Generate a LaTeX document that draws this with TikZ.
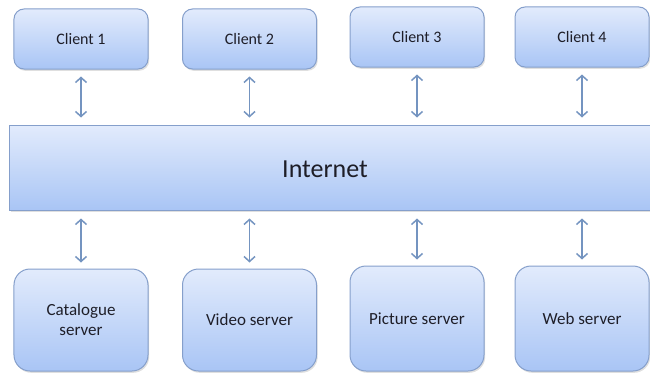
\documentclass[tikz,border=0pt]{standalone}
\usepackage{fontspec}
\setmainfont{Carlito}
\usetikzlibrary{arrows.meta,shadows}
\definecolor{boxtop}{HTML}{E2EBFC}
\definecolor{boxbot}{HTML}{A9C5F5}
\definecolor{boxline}{HTML}{859FCB}
\definecolor{arrowc}{HTML}{7494C0}
\definecolor{txt}{HTML}{1E1E28}
\tikzset{
  boxbase/.style={draw=boxline, line width=1bp, top color=boxtop, bottom color=boxbot,
    drop shadow={shadow xshift=1.2bp, shadow yshift=-1.8bp, opacity=0.25},
    text=txt, align=center, inner sep=0pt},
  clientbox/.style={boxbase, rounded corners=10bp, minimum width=134bp, minimum height=60bp,
    font=\fontsize{16bp}{19bp}\selectfont},
  serverbox/.style={boxbase, rounded corners=16bp, minimum width=134bp,
    font=\fontsize{17bp}{20bp}\selectfont},
  netbox/.style={boxbase, rounded corners=0pt, minimum width=651bp, minimum height=85bp},
  link/.style={draw=arrowc, line width=1.5bp,
    {Straight Barb[length=5bp,width=11bp]}-{Straight Barb[length=5bp,width=11bp]}}
}
\begin{document}
\begin{tikzpicture}[x=1bp,y=1bp]
\useasboundingbox (0,0) rectangle (650,375);
% clients
\node[clientbox] (c1) at (81,336) {Client 1};
\node[clientbox] (c2) at (249.5,336) {Client 2};
\node[clientbox] (c3) at (417,338) {Client 3};
\node[clientbox] (c4) at (582,338) {Client 4};
% internet
\node[netbox, anchor=west] (net) at (9,207.5) {};
\node[text=txt, font=\fontsize{26bp}{30bp}\selectfont] (nettxt) at (325,206) {Internet};
% servers
\node[serverbox, minimum height=102bp] (s1) at (81,55) {Catalogue\\server};
\node[serverbox, minimum height=102bp] (s2) at (249.5,55) {Video server};
\node[serverbox, minimum height=105bp] (s3) at (417,56.5) {Picture server};
\node[serverbox, minimum height=105bp] (s4) at (582,56.5) {Web server};
% links
\foreach \c in {c1,c2,c3,c4}{
  \draw[link, shorten <=7bp, shorten >=7bp] (\c.south) -- (\c.south |- net.north);
}
\foreach \s in {s1,s2,s3,s4}{
  \draw[link, shorten <=8bp, shorten >=6bp] (\s.north |- net.south) -- (\s.north);
}
\end{tikzpicture}
\end{document}
